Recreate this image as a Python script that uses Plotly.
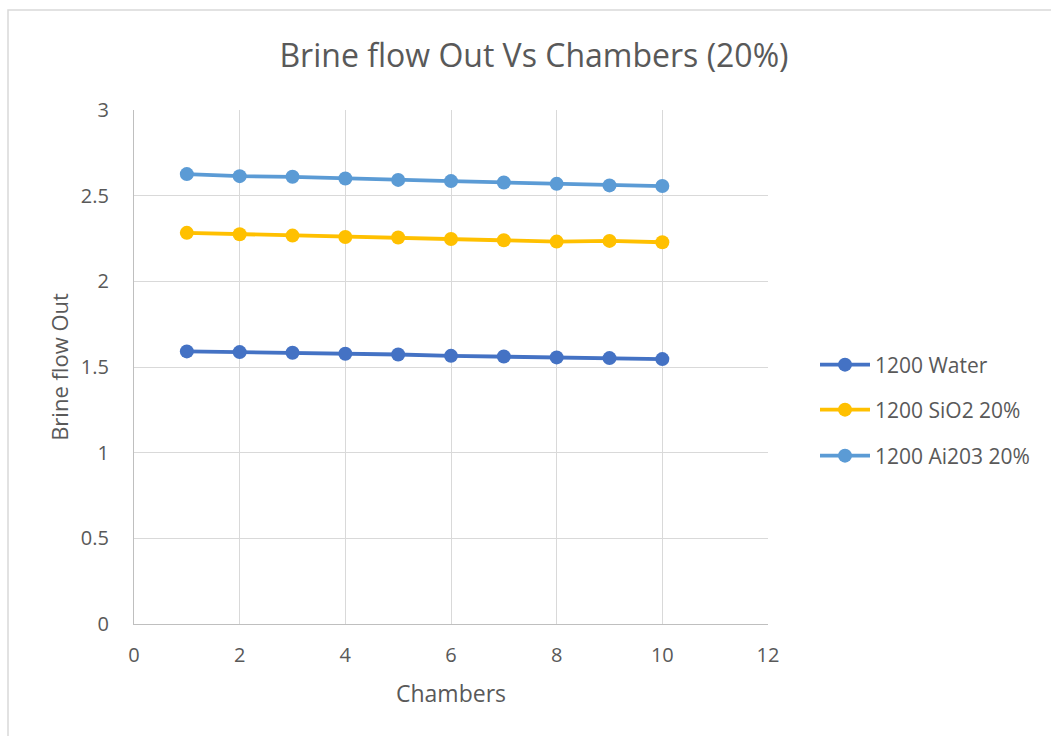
import plotly.graph_objects as go

# Chamber count on the x axis
chambers = [1, 2, 3, 4, 5, 6, 7, 8, 9, 10]

# Brine flow out for each case
water = [1.591, 1.587, 1.583, 1.577, 1.573, 1.565, 1.561, 1.556, 1.552, 1.546]
sio2_20 = [2.283, 2.275, 2.267, 2.259, 2.256, 2.247, 2.240, 2.232, 2.236, 2.228]
al2o3_20 = [2.626, 2.614, 2.610, 2.600, 2.592, 2.585, 2.577, 2.569, 2.560, 2.556]

series_names = ["1200 Water", "1200 SiO2 20%", "1200 Ai203 20%"]
series_values = [water, sio2_20, al2o3_20]
series_colors = ["#4472C4", "#FFC000", "#5B9BD5"]

x_ticks = [0, 2, 4, 6, 8, 10, 12]
y_ticks = [0, 0.5, 1, 1.5, 2, 2.5, 3]
y_tick_text = ["0", "0.5", "1", "1.5", "2", "2.5", "3"]

FONT = "Open Sans, Liberation Sans, sans-serif"
TEXT = "#595959"

W, H = 1051, 736
L, R, T, B = 134, 283, 110, 112
pw, ph = W - L - R, H - T - B


def px(x):
    return (x - L) / pw


def py(y):
    return (H - B - y) / ph


legend_ids = ["legend", "legend2", "legend3"]
legend_rows = [365, 410, 456]

fig = go.Figure()
for name, vals, col, lid in zip(series_names, series_values, series_colors, legend_ids):
    fig.add_trace(go.Scatter(
        x=chambers, y=vals, name=name, mode="lines+markers",
        line=dict(color=col, width=3.8),
        marker=dict(color=col, size=14),
        legend=lid,
    ))

layout_legends = {}
for lid, row in zip(legend_ids, legend_rows):
    layout_legends[lid] = dict(
        x=px(815), y=py(row), xanchor="left", yanchor="middle",
        font=dict(size=21, color=TEXT, family=FONT), itemwidth=50,
        bgcolor="rgba(0,0,0,0)",
    )

fig.update_layout(
    width=W, height=H,
    margin=dict(l=L, r=R, t=T, b=B),
    paper_bgcolor="white", plot_bgcolor="white",
    font=dict(family=FONT, color=TEXT, size=20),
    title=dict(text="Brine flow Out Vs Chambers (20%)", x=(275 + 793) / 2 / W,
               xanchor="center", y=1 - 56 / H, yanchor="middle",
               font=dict(size=32, color=TEXT, family=FONT)),
    xaxis=dict(range=[0, 12], tickvals=x_ticks, showgrid=True, gridcolor="#D9D9D9",
               gridwidth=1.3, zeroline=False, showline=True, linecolor="#BFBFBF",
               linewidth=1.3, ticks="", ticklabelstandoff=13,
               tickfont=dict(size=20, color=TEXT),
               title=dict(text="Chambers", font=dict(size=23, color=TEXT), standoff=18)),
    yaxis=dict(range=[0, 3], tickvals=y_ticks, ticktext=y_tick_text, showgrid=True,
               gridcolor="#D9D9D9", gridwidth=1.3, zeroline=False, showline=True,
               linecolor="#BFBFBF", linewidth=1.3, ticks="", ticklabelstandoff=20,
               tickfont=dict(size=20, color=TEXT),
               title=dict(text="Brine flow Out", font=dict(size=22, color=TEXT), standoff=6)),
    showlegend=True,
    **layout_legends,
)

# Chart frame border
fig.add_shape(type="rect", xref="paper", yref="paper",
              x0=px(8), x1=px(W + 20), y0=py(H + 20), y1=py(10),
              line=dict(color="#D9D9D9", width=1.5), fillcolor="rgba(0,0,0,0)", layer="below")

fig.write_html("out.html")
